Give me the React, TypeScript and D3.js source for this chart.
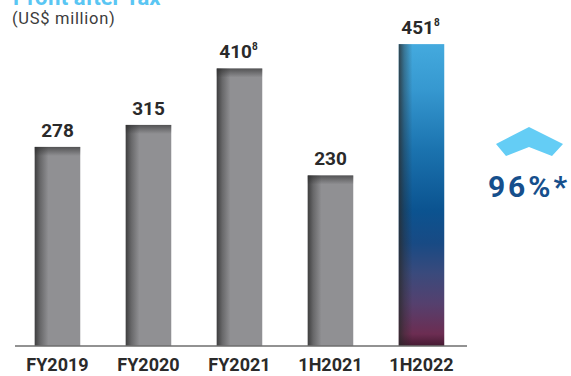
import React from "react";
import * as d3 from "d3";

const categories = ["FY2019", "FY2020", "FY2021", "1H2021", "1H2022"];
const values = [278, 315, 410, 230, 451];
const footnotes = ["", "", "8", "", "8"];
const highlightIndex = 4;
const title = "Profit after Tax";
const subtitle = "(US$ million)";
const growthLabel = "96%*";

const W = 571;
const H = 376;
const baseY = 346;

export default function App() {
  const x = d3.scaleBand<string>().domain(categories).range([12, 467]).paddingInner(0.5).paddingOuter(0.25);
  const y = d3.scaleLinear().domain([-57, 500]).range([baseY, 15]);
  const bw = x.bandwidth();

  return (
    <svg
      width={W}
      height={H}
      style={{ position: "absolute", left: 0, top: 0, background: "#fff" }}
      fontFamily="Roboto, 'DejaVu Sans', sans-serif"
    >
      <defs>
        <linearGradient id="leftShade" x1="0" x2="1" y1="0" y2="0">
          <stop offset="0" stopColor="#2a2a2a" stopOpacity={0.8} />
          <stop offset="0.12" stopColor="#2a2a2a" stopOpacity={0.4} />
          <stop offset="0.3" stopColor="#2a2a2a" stopOpacity={0} />
        </linearGradient>
        <linearGradient id="topShade" x1="0" x2="0" y1="0" y2="1">
          <stop offset="0" stopColor="#2a2a2a" stopOpacity={0.6} />
          <stop offset="1" stopColor="#2a2a2a" stopOpacity={0} />
        </linearGradient>
        <linearGradient id="hiFill" x1="0" x2="0" y1="0" y2="1">
          <stop offset="0" stopColor="#44aade" />
          <stop offset="0.15" stopColor="#3698d0" />
          <stop offset="0.35" stopColor="#1b73af" />
          <stop offset="0.55" stopColor="#0b5390" />
          <stop offset="0.66" stopColor="#184a84" />
          <stop offset="0.76" stopColor="#3a4a7c" />
          <stop offset="0.86" stopColor="#55406e" />
          <stop offset="0.96" stopColor="#6c2d52" />
          <stop offset="1" stopColor="#451a32" />
        </linearGradient>
      </defs>

      <text x={13} y={5} fontSize={22} fontWeight={700} fill="#5ac6f3">
        {title}
      </text>
      <text x={12} y={24} fontSize={16.5} fill="#3c3c3c" letterSpacing={0.7}>
        {subtitle}
      </text>

      {categories.map((c, i) => {
        const x0 = x(c)!;
        const yTop = y(values[i]);
        const h = baseY - yTop;
        const hi = i === highlightIndex;
        return (
          <g key={c}>
            <rect x={x0} y={yTop} width={bw} height={h} fill={hi ? "url(#hiFill)" : "#909093"} />
            <rect x={x0} y={yTop} width={bw} height={h} fill="url(#leftShade)" />
            {!hi && <rect x={x0} y={yTop} width={bw} height={9} fill="url(#topShade)" />}
            <text
              x={x0 + bw / 2 + (footnotes[i] ? -1 : 0)}
              y={yTop - 10}
              textAnchor="middle"
              fontSize={19}
              fontWeight={700}
              fill="#2a2a2a"
            >
              {values[i]}
              {footnotes[i] && (
                <tspan fontSize={10} dy={-8}>
                  {footnotes[i]}
                </tspan>
              )}
            </text>
            <text x={x0 + bw / 2} y={371} textAnchor="middle" fontSize={18} fontWeight={700} fill="#2a2a2a">
              {c}
            </text>
          </g>
        );
      })}

      <line x1={15} x2={467} y1={baseY} y2={baseY} stroke="#6e6e6e" strokeWidth={1.5} />

      <polygon
        points="496,144 529,127 563,144 552,156 529,147 506,156"
        fill="#64cdf5"
      />
      <text x={529} y={197} textAnchor="middle" fontSize={30} fontWeight={700} fill="#164f8c" letterSpacing={3}>
        {growthLabel}
      </text>
    </svg>
  );
}
